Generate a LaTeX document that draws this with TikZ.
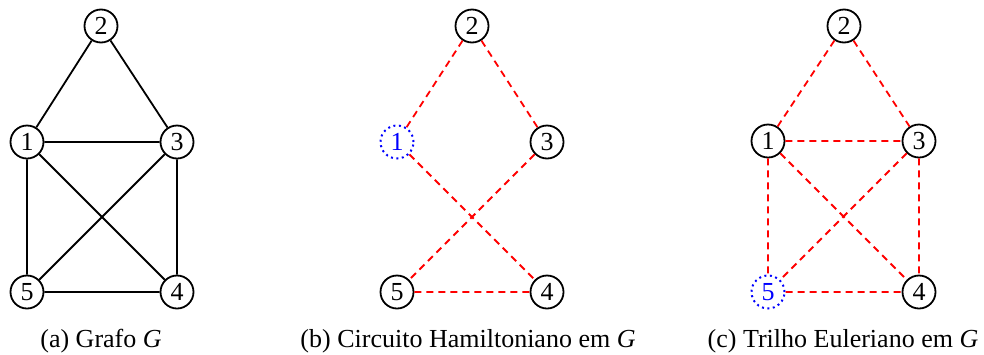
\documentclass[tikz,border=0pt]{standalone}
\usepackage{fontspec}
\setmainfont{Liberation Serif}
\begin{document}
\begin{tikzpicture}[x=1pt,y=-1pt,
  vtx/.style={circle,draw=black,line width=1.8pt,minimum size=33pt,inner sep=0pt,font=\fontsize{26}{26}\selectfont},
  hl/.style={circle,draw=blue,dash pattern=on 2pt off 3.5pt,line width=2pt,text=blue,minimum size=33pt,inner sep=0pt,font=\fontsize{26}{26}\selectfont},
  edge/.style={line width=1.8pt,black},
  red edge/.style={line width=1.8pt,red,dash pattern=on 7pt off 5pt},
  captext/.style={anchor=base,font=\fontsize{26}{26}\selectfont}]
\useasboundingbox (0,0) rectangle (984,354);
% (a)
\node[vtx] (a2) at (101,26) {2};
\node[vtx] (a1) at (27,142) {1};
\node[vtx] (a3) at (177,142) {3};
\node[vtx] (a5) at (27,292) {5};
\node[vtx] (a4) at (177,292) {4};
\draw[edge] (a2)--(a1) (a2)--(a3) (a1)--(a3) (a1)--(a5) (a1)--(a4) (a3)--(a5) (a3)--(a4) (a5)--(a4);
% (b)
\node[vtx] (b2) at (472,26) {2};
\node[hl] (b1) at (397,142) {1};
\node[vtx] (b3) at (547,142) {3};
\node[vtx] (b5) at (397,292) {5};
\node[vtx] (b4) at (547,292) {4};
\draw[red edge] (b2)--(b1) (b2)--(b3) (b1)--(b4) (b3)--(b5) (b5)--(b4);
% (c)
\node[vtx] (c2) at (844,26) {2};
\node[vtx] (c1) at (768,141) {1};
\node[vtx] (c3) at (919,141) {3};
\node[hl] (c5) at (768,292) {5};
\node[vtx] (c4) at (919,292) {4};
\draw[red edge] (c2)--(c1) (c2)--(c3) (c1)--(c3) (c1)--(c5) (c1)--(c4) (c3)--(c5) (c3)--(c4) (c5)--(c4);
% captions
\node[captext] (capa) at (101,347) {(a) Grafo \textit{G}};
\node[captext] (capb) at (468,347) {(b) Circuito Hamiltoniano em \textit{G}};
\node[captext] (capc) at (843,347) {(c) Trilho Euleriano em \textit{G}};
\end{tikzpicture}
\end{document}
